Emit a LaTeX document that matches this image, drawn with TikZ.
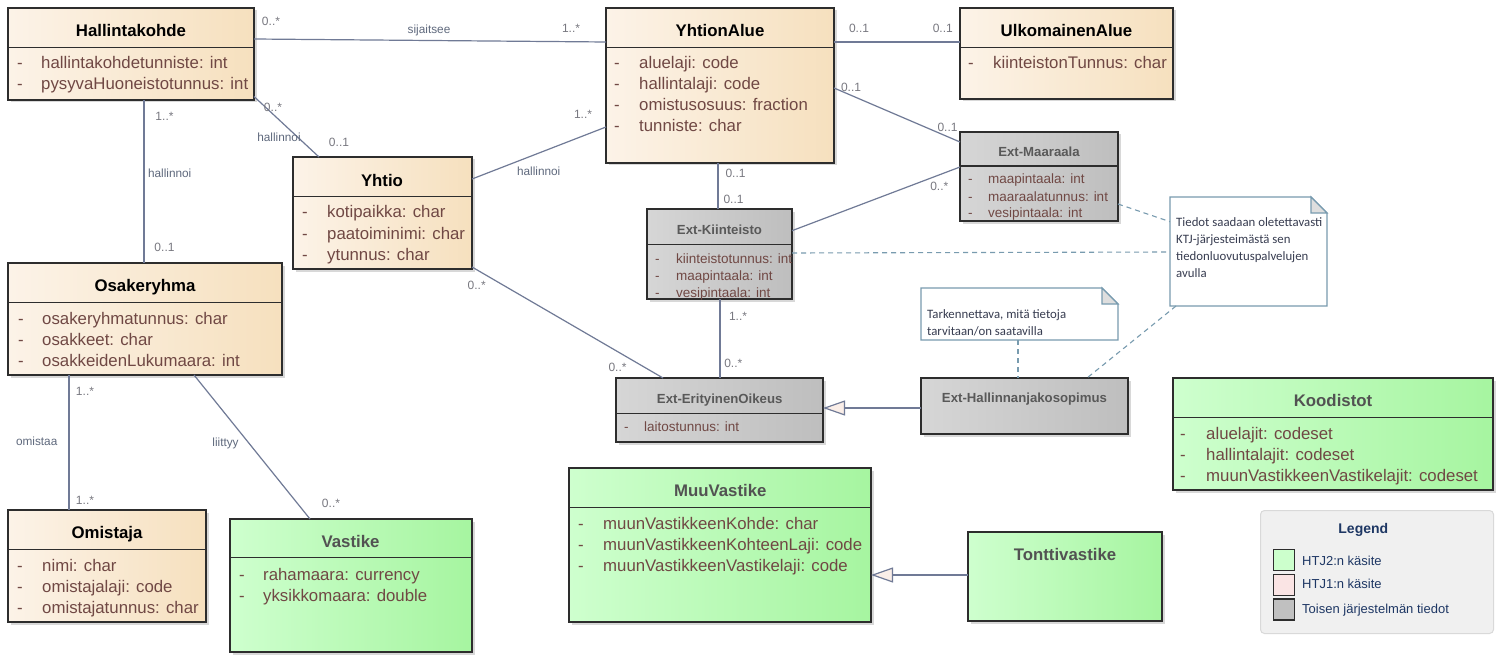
\documentclass[tikz,border=0pt]{standalone}
\usepackage{fontspec}
\setmainfont{Liberation Sans}
\newfontfamily\notefont{Carlito}
\usetikzlibrary{arrows.meta,shadows}

\definecolor{tanL}{RGB}{252,243,232}
\definecolor{tanR}{RGB}{246,224,190}
\definecolor{grayL}{RGB}{214,214,214}
\definecolor{grayR}{RGB}{190,190,190}
\definecolor{grnL}{RGB}{206,255,206}
\definecolor{grnR}{RGB}{166,245,160}
\definecolor{bord}{RGB}{45,45,45}
\definecolor{attrc}{RGB}{112,72,68}
\definecolor{connc}{RGB}{112,122,150}
\definecolor{lblc}{RGB}{95,105,125}
\definecolor{multc}{RGB}{120,120,128}
\definecolor{notec}{RGB}{120,155,175}
\definecolor{notetxt}{RGB}{55,60,80}
\definecolor{legtxt}{RGB}{30,55,100}
\definecolor{genfill}{RGB}{250,238,232}
\definecolor{swgrn}{RGB}{204,255,204}
\definecolor{swpink}{RGB}{250,228,228}
\definecolor{swgray}{RGB}{192,192,192}

\tikzset{
  cls/.style={draw=bord, line width=1.3pt, inner sep=0pt, outer sep=0pt, anchor=north west,
    drop shadow={shadow xshift=2.5pt, shadow yshift=-2.5pt, fill=black!25, opacity=.6}},
  tancls/.style={cls, left color=tanL, right color=tanR},
  graycls/.style={cls, left color=grayL, right color=grayR},
  grncls/.style={cls, left color=grnL, right color=grnR},
  sepline/.style={draw=bord, line width=1.3pt},
  ttl/.style={font=\fontsize{16.8}{20}\selectfont\bfseries, anchor=base, inner sep=0pt, text=black},
  gttl/.style={ttl, text=black!68},
  ettl/.style={font=\fontsize{13.2}{16}\selectfont\bfseries, anchor=base, inner sep=0pt, text=black!65},
  attr/.style={font=\fontsize{16.8}{20}\selectfont, text=attrc, anchor=base west, inner sep=0pt},
  eattr/.style={font=\fontsize{13.5}{16}\selectfont, text=attrc, anchor=base west, inner sep=0pt},
  conn/.style={draw=connc, line width=1.2pt},
  gen/.style={conn, -{Triangle[length=22pt, width=15pt, fill=genfill]}},
  notelink/.style={draw=notec, line width=1.1pt, dash pattern=on 5pt off 4pt},
  lbl/.style={font=\fontsize{11.8}{14}\selectfont, text=lblc, inner sep=0pt},
  mult/.style={font=\fontsize{12}{14}\selectfont, text=multc, inner sep=0pt},
  notebox/.style={inner sep=0pt, outer sep=0pt, anchor=north west},
  notet/.style={font=\notefont\fontsize{12.8}{15}\selectfont, text=notetxt, anchor=base west, inner sep=0pt},
  legbox/.style={rounded corners=4pt, fill=black!6, draw=black!15, line width=1pt, anchor=north west, inner sep=0pt},
  swatch/.style={draw=bord, line width=1.2pt, minimum size=21pt, inner sep=0pt, anchor=north west},
  legt/.style={font=\fontsize{13}{16}\selectfont, text=legtxt, anchor=base west, inner sep=0pt},
  legttl/.style={font=\fontsize{14}{16}\selectfont\bfseries, text=legtxt, anchor=base, inner sep=0pt}
}

\newcommand\attrlist[7]{%
  \foreach \t [count=\i from 0] in {#7}{%
    \node[#2] (#1-a\i) at (#3,{#5+\i*#6}) {\makebox[#4pt][l]{-}\t};}}

\begin{document}
\begin{tikzpicture}[x=1pt, y=-1pt]
\useasboundingbox (0,0) rectangle (1501,655);
\fill[white] (0,0) rectangle (1501,655);

% ---------- connectors (drawn first) ----------
\node[tancls, minimum width=246, minimum height=92] (hk) at (8,8) {};
\node[tancls, minimum width=228, minimum height=155] (ya) at (606,8) {};
\node[tancls, minimum width=213, minimum height=91] (ua) at (960,8) {};
\node[graycls, minimum width=158, minimum height=89] (em) at (960,132) {};
\node[graycls, minimum width=145, minimum height=90] (ek) at (647,209) {};
\node[graycls, minimum width=207, minimum height=64] (eo) at (616,378) {};
\node[graycls, minimum width=207, minimum height=56] (eh) at (921,378) {};
\node[tancls, minimum width=179, minimum height=112] (yh) at (293,157) {};
\node[tancls, minimum width=274, minimum height=112] (os) at (8,263) {};
\node[tancls, minimum width=198, minimum height=112] (om) at (8,510) {};
\node[grncls, minimum width=242, minimum height=133] (va) at (230,519) {};
\node[grncls, minimum width=302, minimum height=154] (mv) at (569,468) {};
\node[grncls, minimum width=194, minimum height=89] (tv) at (968,532) {};
\node[grncls, minimum width=320, minimum height=112] (ko) at (1173,378) {};

% separators
\draw[sepline] (hk.west |- 0,47.7) -- (hk.east |- 0,47.7);
\draw[sepline] (ya.west |- 0,47.7) -- (ya.east |- 0,47.7);
\draw[sepline] (ua.west |- 0,47.7) -- (ua.east |- 0,47.7);
\draw[sepline] (em.west |- 0,166) -- (em.east |- 0,166);
\draw[sepline] (ek.west |- 0,244.3) -- (ek.east |- 0,244.3);
\draw[sepline] (eo.west |- 0,413.3) -- (eo.east |- 0,413.3);
\draw[sepline] (yh.west |- 0,196.7) -- (yh.east |- 0,196.7);
\draw[sepline] (os.west |- 0,302.3) -- (os.east |- 0,302.3);
\draw[sepline] (om.west |- 0,549.3) -- (om.east |- 0,549.3);
\draw[sepline] (va.west |- 0,557.7) -- (va.east |- 0,557.7);
\draw[sepline] (mv.west |- 0,507.3) -- (mv.east |- 0,507.3);
\draw[sepline] (ko.west |- 0,417.3) -- (ko.east |- 0,417.3);

% titles
\node[ttl] (hk-t) at (131,37) {Hallintakohde};
\node[ttl] (ya-t) at (720,37) {YhtionAlue};
\node[ttl] (ua-t) at (1066.5,37) {UlkomainenAlue};
\node[ettl] (em-t) at (1039,156.4) {Ext-Maaraala};
\node[ettl] (ek-t) at (719.5,234.7) {Ext-Kiinteisto};
\node[ettl] (eo-t) at (719.7,403) {Ext-ErityinenOikeus};
\node[ettl] (eh-t) at (1024.5,402.4) {Ext-Hallinnanjakosopimus};
\node[ttl] (yh-t) at (382,186) {Yhtio};
\node[ttl] (os-t) at (145,291.5) {Osakeryhma};
\node[ttl] (om-t) at (107,538) {Omistaja};
\node[gttl] (va-t) at (350.5,547) {Vastike};
\node[gttl] (mv-t) at (720.3,496.7) {MuuVastike};
\node[gttl] (tv-t) at (1065,560.3) {Tonttivastike};
\node[gttl] (ko-t) at (1333,406.7) {Koodistot};

% attributes
\attrlist{hk}{attr}{17}{24}{69}{21}{hallintakohdetunniste: int,pysyvaHuoneistotunnus: int}
\attrlist{ya}{attr}{614}{25}{69}{21}{aluelaji: code,hallintalaji: code,omistusosuus: fraction,tunniste: char}
\attrlist{ua}{attr}{968}{25}{69}{21}{kiinteistonTunnus: char}
\attrlist{em}{eattr}{968}{20}{184}{17}{maapintaala: int,maaraalatunnus: int,vesipintaala: int}
\attrlist{ek}{eattr}{655}{21}{263}{17}{kiinteistotunnus: int,maapintaala: int,vesipintaala: int}
\attrlist{eo}{eattr}{624}{20}{431.4}{17}{laitostunnus: int}
\attrlist{yh}{attr}{302}{25}{218}{21}{kotipaikka: char,paatoiminimi: char,ytunnus: char}
\attrlist{os}{attr}{18}{24}{324}{21}{osakeryhmatunnus: char,osakkeet: char,osakkeidenLukumaara: int}
\attrlist{om}{attr}{17}{25}{571}{21}{nimi: char,omistajalaji: code,omistajatunnus: char}
\attrlist{va}{attr}{239}{24}{580.3}{21}{rahamaara: currency,yksikkomaara: double}
\attrlist{mv}{attr}{578}{25}{529.3}{21}{muunVastikkeenKohde: char,muunVastikkeenKohteenLaji: code,muunVastikkeenVastikelaji: code}
\attrlist{ko}{attr}{1180}{26}{439.3}{21}{aluelajit: codeset,hallintalajit: codeset,muunVastikkeenVastikelajit: codeset}

% notes
\node[notebox, minimum width=157, minimum height=109] (n1) at (1170,197) {};
\draw[draw=notec, fill=white, line width=1.1pt] (n1.north west) -- ([xshift=-16pt]n1.north east) -- ([yshift=-16pt]n1.north east) -- (n1.south east) -- (n1.south west) -- cycle;
\draw[draw=notec, fill=black!13, line width=1.1pt] ([xshift=-16pt]n1.north east) -- ([xshift=-16pt,yshift=-16pt]n1.north east) -- ([yshift=-16pt]n1.north east) -- cycle;
\node[notet] (n1-l1) at (1176,226.5) {Tiedot saadaan oletettavasti};
\node[notet] (n1-l2) at (1176,243.5) {KTJ-järjesteimästä sen};
\node[notet] (n1-l3) at (1176,260.5) {tiedonluovutuspalvelujen};
\node[notet] (n1-l4) at (1176,277.5) {avulla};

\node[notebox, minimum width=197, minimum height=52] (n2) at (921,288) {};
\draw[draw=notec, fill=white, line width=1.1pt] (n2.north west) -- ([xshift=-16pt]n2.north east) -- ([yshift=-16pt]n2.north east) -- (n2.south east) -- (n2.south west) -- cycle;
\draw[draw=notec, fill=black!13, line width=1.1pt] ([xshift=-16pt]n2.north east) -- ([xshift=-16pt,yshift=-16pt]n2.north east) -- ([yshift=-16pt]n2.north east) -- cycle;
\node[notet] (n2-l1) at (927,318.5) {Tarkennettava, mitä tietoja};
\node[notet] (n2-l2) at (927,335.5) {tarvitaan/on saatavilla};

% associations
\draw[conn] (hk.east |- 0,39) -- (ya.west |- 0,42);
\draw[conn] (hk.east |- 0,96.5) -- (yh.north -| 319,0);
\draw[conn] (hk.south -| 144,0) -- (os.north -| 144,0);
\draw[conn] (yh.east |- 0,179) -- (ya.west |- 0,127);
\draw[conn] (yh.east |- 0,267) -- (eo.north -| 663,0);
\draw[conn] (ya.east |- 0,42) -- (ua.west |- 0,42);
\draw[conn] (ya.east |- 0,88) -- (em.west |- 0,142);
\draw[conn] (ya.south -| 718,0) -- (ek.north -| 718,0);
\draw[conn] (ek.east |- 0,230.7) -- (em.west |- 0,167);
\draw[conn] (ek.south -| 720,0) -- (eo.north -| 720,0);
\draw[conn] (os.south -| 69,0) -- (om.north -| 69,0);
\draw[conn] (os.south -| 194,0) -- (va.north -| 310,0);
% generalizations
\draw[gen] (eh.west |- 0,408) -- (eo.east |- 0,408);
\draw[gen] (tv.west |- 0,575) -- (mv.east |- 0,575);
% note links
\draw[notelink] (ek.east |- 0,253) -- (n1.west |- 0,252);
\draw[notelink] (em.east |- 0,204) -- (n1.west |- 0,221.7);
\draw[notelink] (n1.south -| 1176,0) -- (eh.north -| 1087,0);
\draw[notelink] (n2.south -| 1018,0) -- (eh.north -| 1018,0);

% connector labels
\node[lbl] (l-sij) at (429,30.5) {sijaitsee};
\node[lbl] (l-hal1) at (279,137.7) {hallinnoi};
\node[lbl] (l-hal2) at (169.7,173.3) {hallinnoi};
\node[lbl] (l-hal3) at (538.7,171.7) {hallinnoi};
\node[lbl] (l-om) at (36.7,441) {omistaa};
\node[lbl] (l-lii) at (225.5,443.3) {liittyy};

% multiplicities
\node[mult] (m1) at (271,21) {0..*};
\node[mult] (m2) at (571,28.5) {1..*};
\node[mult] (m3) at (273,107) {0..*};
\node[mult] (m4) at (339,142.5) {0..1};
\node[mult] (m5) at (164.5,116) {1..*};
\node[mult] (m6) at (164.5,247.7) {0..1};
\node[mult] (m7) at (583,114) {1..*};
\node[mult] (m8) at (476.7,285) {0..*};
\node[mult] (m9) at (617.5,367.7) {0..*};
\node[mult] (m10) at (859,28.3) {0..1};
\node[mult] (m11) at (942.8,28.3) {0..1};
\node[mult] (m12) at (851,87.7) {0..1};
\node[mult] (m13) at (947.5,127.5) {0..1};
\node[mult] (m14) at (735.5,173.3) {0..1};
\node[mult] (m15) at (733.5,199) {0..1};
\node[mult] (m16) at (939.3,186.7) {0..*};
\node[mult] (m17) at (738,316.7) {1..*};
\node[mult] (m18) at (733.3,363.3) {0..*};
\node[mult] (m19) at (85,391) {1..*};
\node[mult] (m20) at (85,500.7) {1..*};
\node[mult] (m21) at (331,503.3) {0..*};

% legend
\node[legbox, minimum width=233, minimum height=123] (lg) at (1260,510) {};
\node[legttl] (lg-t) at (1363.3,533.3) {Legend};
\node[swatch, fill=swgrn] (lg-s1) at (1273,549) {};
\node[swatch, fill=swpink] (lg-s2) at (1273,573.5) {};
\node[swatch, fill=swgray] (lg-s3) at (1273,598.3) {};
\node[legt] (lg-l1) at (1302,565.4) {HTJ2:n käsite};
\node[legt] (lg-l2) at (1302,588.7) {HTJ1:n käsite};
\node[legt] (lg-l3) at (1302,613.7) {Toisen järjestelmän tiedot};
\end{tikzpicture}
\end{document}
